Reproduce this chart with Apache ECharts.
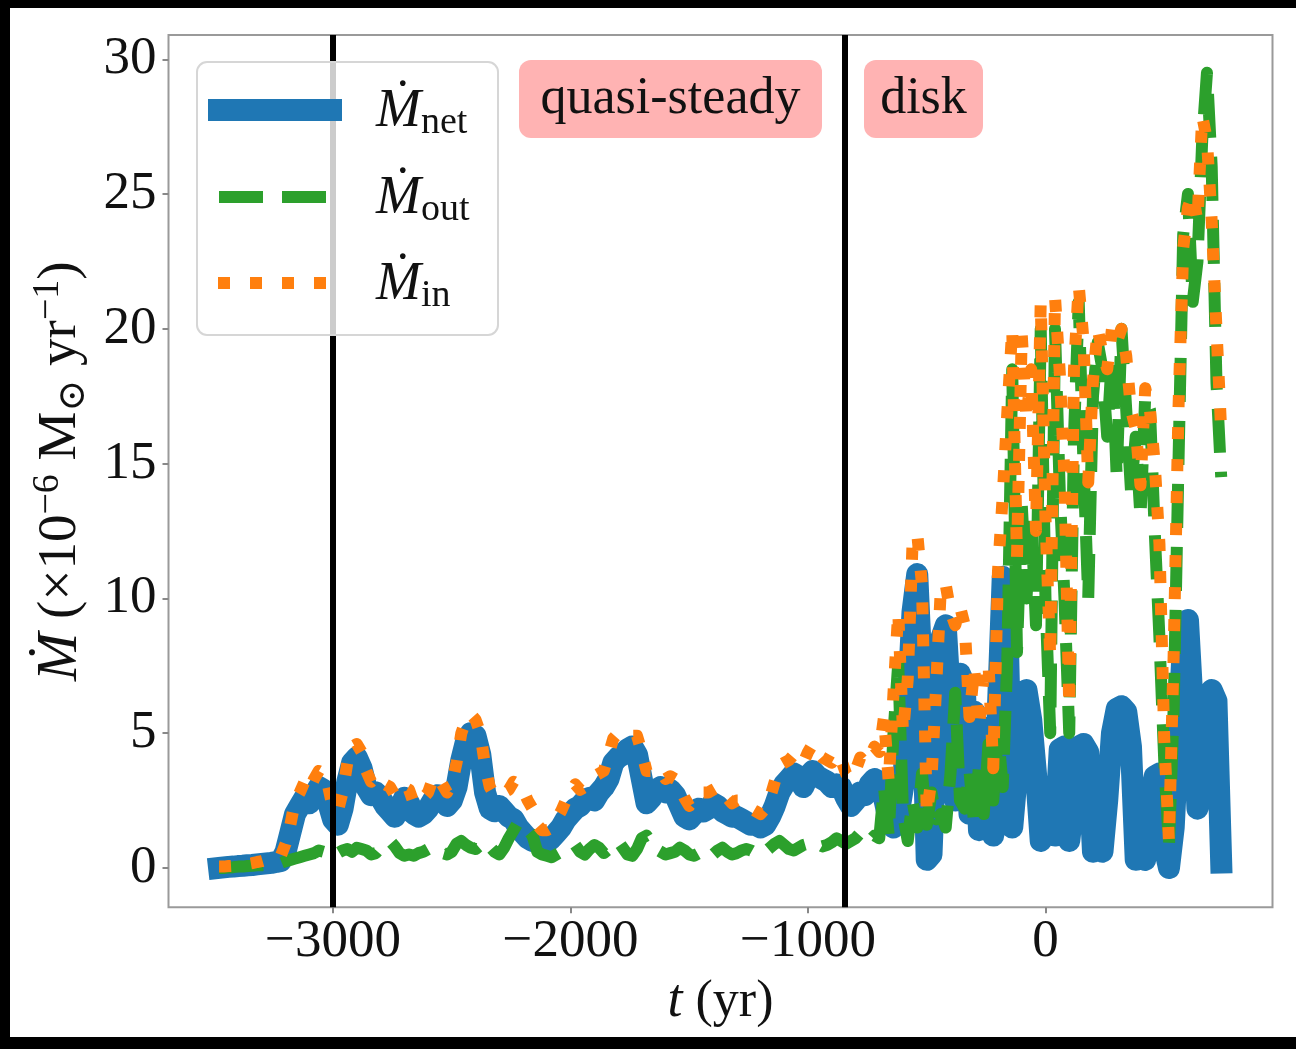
<!DOCTYPE html>
<html><head><meta charset="utf-8">
<script src="https://cdn.jsdelivr.net/npm/echarts@6/dist/echarts.min.js"></script>
<style>
html,body{margin:0;padding:0;background:#000;width:1296px;height:1049px;overflow:hidden;}
#chart{position:absolute;left:10px;top:8px;width:1286px;height:1029px;background:#fff;}
</style></head><body><div id="chart"></div>
<script>
// time (yr)
const times = [
-3480,-3460,-3440,-3420,-3400,-3380,-3360,-3340,-3320,-3300,
-3280,-3260,-3240,-3220,-3200,-3180,-3160,-3140,-3120,-3100,
-3080,-3060,-3040,-3020,-3000,-2980,-2960,-2940,-2920,-2900,
-2880,-2860,-2840,-2820,-2800,-2780,-2760,-2740,-2720,-2700,
-2680,-2660,-2640,-2620,-2600,-2580,-2560,-2540,-2520,-2500,
-2480,-2460,-2440,-2420,-2400,-2380,-2360,-2340,-2320,-2300,
-2280,-2260,-2240,-2220,-2200,-2180,-2160,-2140,-2120,-2100,
-2080,-2060,-2040,-2020,-2000,-1980,-1960,-1940,-1920,-1900,
-1880,-1860,-1840,-1820,-1800,-1780,-1760,-1740,-1720,-1700,
-1680,-1660,-1640,-1620,-1600,-1580,-1560,-1540,-1520,-1500,
-1480,-1460,-1440,-1420,-1400,-1380,-1360,-1340,-1320,-1300,
-1280,-1260,-1240,-1220,-1200,-1180,-1160,-1140,-1120,-1100,
-1080,-1060,-1040,-1020,-1000,-980,-960,-940,-920,-900,
-880,-860,-840,-820,-800,-780,-760,-740,-720,-700,
-680,-660,-640,-620,-600,-580,-560,-540,-520,-500,
-480,-460,-440,-420,-400,-380,-360,-340,-320,-300,
-280,-260,-240,-220,-200,-180,-160,-140,-120,-100,
-80,-60,-40,-20,0,20,40,60,80,100,
120,140,160,180,200,220,240,260,280,300,
320,340,360,380,400,420,440,460,480,500,
520,540,560,580,600,620,640,660,680,700,
720,740];
// net accretion rate (1e-6 Msun/yr)
const netRate = [
0.0,0.02,0.04,0.05,0.07,0.08,0.1,0.11,0.13,0.15,
0.17,0.19,0.22,0.26,0.6,1.3,2.0,2.3,2.6,2.4,
2.7,3.0,2.9,2.4,1.8,1.6,2.2,3.2,3.9,4.1,
3.7,3.0,2.7,2.8,2.6,2.3,2.1,1.9,2.2,2.6,
2.4,2.0,1.9,2.0,2.2,2.5,2.7,2.6,2.3,2.5,
3.0,4.0,4.7,5.0,4.9,4.2,2.8,2.2,2.1,2.3,
2.1,1.9,1.8,1.5,1.3,1.1,1.0,0.95,0.9,0.95,
1.1,1.3,1.5,1.8,2.0,2.2,2.3,2.5,2.6,2.5,
2.8,3.0,3.3,3.9,4.1,4.2,4.4,4.5,4.2,3.3,
2.4,2.6,2.9,3.0,2.8,2.9,2.7,2.3,1.9,1.8,
2.0,2.2,2.1,2.2,2.4,2.3,2.1,2.0,1.9,1.9,
1.8,1.7,1.6,1.6,1.5,1.6,1.9,2.3,2.8,3.1,
3.3,3.5,3.4,3.0,3.4,3.6,3.4,3.3,3.2,3.0,
3.1,3.0,2.6,2.3,2.5,2.8,2.7,3.1,3.3,3.2,
2.6,1.8,1.5,1.9,3.0,6.0,9.5,10.9,7.0,0.3,
0.5,5.0,8.5,9.0,6.0,2.5,7.2,6.8,2.0,5.8,
1.4,5.2,3.0,1.2,6.0,10.8,9.0,1.5,3.5,6.3,
6.6,5.5,3.5,1.0,3.0,2.8,1.2,4.4,4.5,1.0,
2.5,4.5,4.6,4.3,0.6,1.8,0.6,2.5,5.0,5.9,
6.0,5.8,4.5,0.3,1.2,0.3,2.5,3.4,3.5,0.8,
0.0,1.5,5.0,8.5,9.2,6.0,2.2,3.0,6.0,6.6,
6.2,0.2];
// outflow rate
const outRate = [
0.0,0.0,0.02,0.03,0.05,0.05,0.07,0.08,0.1,0.1,
0.12,0.13,0.15,0.18,0.25,0.3,0.35,0.4,0.45,0.5,
0.55,0.65,0.6,0.55,0.4,0.55,0.65,0.7,0.6,0.75,
0.7,0.65,0.5,0.55,0.75,0.9,1.0,0.8,0.55,0.45,
0.5,0.45,0.55,0.6,0.7,0.8,0.7,0.55,0.5,0.6,
0.9,1.0,0.85,0.75,0.7,0.85,1.0,0.8,0.6,0.5,
0.75,1.1,1.4,1.7,1.6,1.4,1.2,0.6,0.5,0.45,
0.4,0.5,0.6,0.65,0.75,0.85,0.6,0.5,0.7,0.85,
0.75,0.55,0.7,0.9,1.0,0.75,0.5,0.45,0.7,1.1,
1.2,0.9,0.7,0.6,0.5,0.55,0.6,0.75,0.65,0.5,
0.45,0.55,0.7,0.6,0.5,0.65,0.75,0.6,0.5,0.55,
0.65,0.7,0.65,0.55,0.5,0.6,0.75,0.9,1.0,0.85,
0.7,0.65,0.75,0.85,0.9,1.0,0.9,0.8,0.85,0.95,
1.1,1.0,0.9,1.0,1.1,1.3,1.2,1.0,1.2,1.1,
3.0,1.2,5.0,7.6,2.0,1.0,2.5,1.5,3.5,1.6,
2.8,1.8,2.0,1.5,3.5,6.5,2.5,2.2,3.6,1.6,
3.8,2.0,4.6,2.5,5.0,3.0,8.0,18.5,8.0,13.5,
10.0,13.0,9.0,20.0,10.0,5.0,20.0,14.0,10.0,5.0,
16.0,21.0,15.0,10.0,17.5,19.5,18.5,16.0,19.0,14.5,
20.0,17.0,14.0,16.0,13.0,17.5,17.0,12.5,8.5,4.0,
0.8,6.0,15.0,23.5,25.0,21.0,22.5,27.0,29.5,26.0,
18.0,14.5];
// inflow rate
const inRate = [
0.05,0.05,0.07,0.08,0.1,0.12,0.15,0.18,0.22,0.25,
0.3,0.33,0.38,0.45,0.9,1.6,2.5,2.8,3.2,2.9,
3.3,3.6,3.5,3.0,2.2,2.1,2.8,3.9,4.5,4.6,
4.3,3.6,3.2,3.4,3.3,3.1,3.0,2.7,2.7,3.0,
2.9,2.4,2.4,2.6,2.8,3.3,3.4,3.1,2.8,3.1,
3.9,5.0,5.5,5.7,5.5,5.0,3.8,3.0,2.7,2.8,
2.8,2.9,3.2,3.1,2.9,2.5,2.2,1.6,1.4,1.4,
1.5,1.8,2.1,2.5,2.8,3.1,2.9,3.0,3.3,3.4,
3.5,3.6,4.2,4.8,5.0,5.0,4.9,4.9,4.9,4.3,
3.6,3.6,3.7,3.6,3.3,3.4,3.3,3.0,2.6,2.3,
2.5,2.8,2.8,2.8,2.9,3.0,2.7,2.6,2.4,2.5,
2.5,2.4,2.2,2.1,2.0,2.2,2.6,3.2,3.8,3.9,
4.0,4.2,4.1,3.9,4.3,4.6,4.3,4.1,4.0,3.9,
4.2,4.0,3.5,3.3,3.6,4.1,3.9,4.1,4.5,4.3,
5.6,3.2,6.5,9.5,5.0,7.0,12.0,12.4,10.5,2.0,
3.3,6.8,10.5,10.5,9.5,9.0,9.7,9.0,5.6,7.4,
5.2,7.2,7.6,3.7,11.0,13.8,17.0,20.0,11.5,19.8,
16.6,18.5,12.5,21.0,13.0,7.8,21.2,18.4,14.5,6.0,
18.5,21.6,19.6,14.3,18.1,20.0,19.1,18.5,20.0,19.5,
20.0,19.0,17.0,16.3,14.2,17.8,17.0,15.0,12.0,4.8,
1.0,8.0,17.0,23.0,24.5,25.0,24.0,27.9,27.0,24.0,
20.0,16.2];

const xTicks = [-3000, -2000, -1000, 0];
const yTicks = [0, 5, 10, 15, 20, 25, 30];
const phaseBoundaries = [-3000, -845];
const phaseLabels = ['quasi-steady', 'disk'];
const legendSubs = ['net', 'out', 'in'];
const colors = ['#1f77b4', '#2ca02c', '#ff7f0e'];

const serif = "'Liberation Serif', 'DejaVu Serif', serif";
const pairs = a => times.map((t, i) => [t, a[i]]);
const fmt = v => String(v).replace('-', '\u2212');

const chart = echarts.init(document.getElementById('chart'), null, {renderer: 'canvas'});

const legendGraphics = [
  {type: 'rect', z: 100, shape: {x: 187, y: 54, width: 301, height: 273, r: 10},
   style: {fill: 'rgba(255,255,255,0.8)', stroke: '#d6d6d6', lineWidth: 2}},
  {type: 'line', z: 101, shape: {x1: 198, y1: 102, x2: 332, y2: 102},
   style: {stroke: colors[0], lineWidth: 22, lineCap: 'butt'}},
  {type: 'line', z: 101, shape: {x1: 209, y1: 189, x2: 317, y2: 189},
   style: {stroke: colors[1], lineWidth: 12, lineDash: [44, 19], lineCap: 'butt'}},
  {type: 'line', z: 101, shape: {x1: 208, y1: 275, x2: 318, y2: 275},
   style: {stroke: colors[2], lineWidth: 12, lineDash: [12, 20], lineCap: 'butt'}}
];
const legendY = [104, 191, 277];
legendSubs.forEach((s, i) => {
  legendGraphics.push({
    type: 'text', z: 102, x: 366, y: legendY[i],
    style: {
      text: '{m|\u1E40}{s|' + s + '}', align: 'left', verticalAlign: 'middle', fill: '#111',
      rich: {
        m: {fontFamily: serif, fontStyle: 'italic', fontSize: 54, lineHeight: 60, verticalAlign: 'middle', fill: '#111'},
        s: {fontFamily: serif, fontSize: 38, lineHeight: 38, verticalAlign: 'bottom', fill: '#111'}
      }
    }
  });
});

const boxes = [
  {x: 509, y: 52, w: 303, h: 78},
  {x: 854, y: 52, w: 119, h: 78}
];
const annGraphics = [];
phaseLabels.forEach((lab, i) => {
  const b = boxes[i];
  annGraphics.push({type: 'rect', z: 90, shape: {x: b.x, y: b.y, width: b.w, height: b.h, r: 12},
    style: {fill: '#ffb3b3'}});
  annGraphics.push({type: 'text', z: 91, x: b.x + b.w / 2, y: b.y + b.h / 2,
    style: {text: lab, align: 'center', verticalAlign: 'middle', fontFamily: serif, fontSize: 52, fill: '#111'}});
});

const option = {
  animation: false,
  backgroundColor: '#ffffff',
  grid: {left: 158.5, right: 23.5, top: 27, bottom: 129.7, show: true,
         borderColor: '#9a9a9a', borderWidth: 2, outerBoundsMode: 'none', containLabel: false},
  xAxis: {
    type: 'value', min: -3693, max: 956,
    splitLine: {show: false}, axisLine: {show: false, onZero: false},
    axisTick: {show: true, length: 6, customValues: xTicks, lineStyle: {color: '#888', width: 2}},
    axisLabel: {customValues: xTicks, margin: 8, fontFamily: serif, fontSize: 53, color: '#111', formatter: fmt},
    name: '{it|t} (yr)', nameLocation: 'middle', nameGap: 68,
    nameTextStyle: {fontFamily: serif, fontSize: 52, color: '#111',
      rich: {it: {fontFamily: serif, fontStyle: 'italic', fontSize: 54, color: '#111'}}}
  },
  yAxis: {
    type: 'value', min: -1.46, max: 30.9,
    splitLine: {show: false}, axisLine: {show: false, onZero: false},
    axisTick: {show: true, length: 6, customValues: yTicks, lineStyle: {color: '#888', width: 2}},
    axisLabel: {customValues: yTicks, margin: 12, fontFamily: serif, fontSize: 53, color: '#111', formatter: fmt},
    name: '{it|\u1E40} (\u00D710{sup|\u22126} M{sub|\u2299} yr{sup|\u22121})',
    nameLocation: 'middle', nameGap: 73,
    nameTextStyle: {fontFamily: serif, fontSize: 55, lineHeight: 64, color: '#111',
      rich: {
        it: {fontFamily: serif, fontStyle: 'italic', fontSize: 58, lineHeight: 64, color: '#111'},
        sup: {fontFamily: serif, fontSize: 38, lineHeight: 38, verticalAlign: 'top', color: '#111'},
        sub: {fontFamily: serif, fontSize: 38, lineHeight: 38, verticalAlign: 'bottom', color: '#111'}
      }}
  },
  series: [
    {name: 'net', type: 'line', data: pairs(netRate), showSymbol: false, symbol: 'none', silent: true, z: 2,
     color: colors[0], lineStyle: {color: colors[0], width: 22, cap: 'square', join: 'round'}},
    {name: 'out', type: 'line', data: pairs(outRate), showSymbol: false, symbol: 'none', silent: true, z: 3,
     color: colors[1], lineStyle: {color: colors[1], width: 12, type: [44, 19], cap: 'butt', join: 'round'}},
    {name: 'in', type: 'line', data: pairs(inRate), showSymbol: false, symbol: 'none', silent: true, z: 4,
     color: colors[2], lineStyle: {color: colors[2], width: 12, type: [12, 20], cap: 'butt', join: 'round'}},
    {name: 'boundaries', type: 'line', data: [], z: 5, silent: true,
     markLine: {silent: true, symbol: ['none', 'none'], label: {show: false}, animation: false,
       lineStyle: {color: '#000', width: 6, type: 'solid'},
       emphasis: {disabled: true},
       data: phaseBoundaries.map(v => ({xAxis: v}))}}
  ],
  graphic: annGraphics.concat(legendGraphics)
};
chart.setOption(option);
if (!(times.length === netRate.length && times.length === outRate.length && times.length === inRate.length)) {
  console.error('length mismatch', times.length, netRate.length, outRate.length, inRate.length);
}
</script></body></html>
